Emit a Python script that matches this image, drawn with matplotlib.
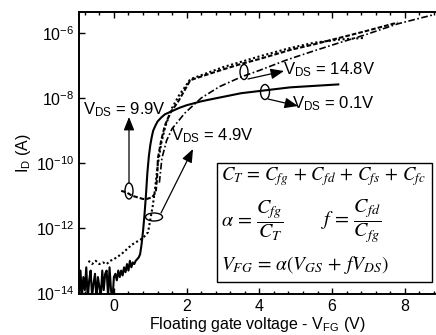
import numpy as np
import matplotlib
matplotlib.use("Agg")
import matplotlib.pyplot as plt
from matplotlib.patches import Ellipse, Rectangle, FancyArrowPatch
from matplotlib.ticker import MultipleLocator

plt.rcParams["font.family"] = ["Liberation Sans", "DejaVu Sans"]
plt.rcParams["mathtext.fontset"] = "custom"
plt.rcParams["mathtext.rm"] = "Liberation Sans"
plt.rcParams["mathtext.it"] = "Liberation Sans:italic"

# V_DS = 0.1 V (solid), log10(I_D)
solid_x = [-1.0, -0.96, -0.92, -0.88, -0.84, -0.8, -0.76, -0.72, -0.68, -0.64, -0.6, -0.56,
           -0.52, -0.48, -0.44, -0.4, -0.36, -0.32, -0.28, -0.24, -0.2, -0.16, -0.12, -0.08,
           -0.04, 0.0, 0.04, 0.08, 0.12, 0.16, 0.2, 0.24, 0.28, 0.32, 0.36, 0.4, 0.44, 0.48,
           0.52, 0.56, 0.6, 0.64, 0.68, 0.72, 0.76, 0.8, 0.84, 0.88, 0.92, 0.96, 1.0, 1.04,
           1.08, 1.14, 1.2, 1.3, 1.4, 1.6, 1.8, 2.0, 2.4, 2.7, 3.5, 4.85, 6.17]
solid_logy = [-13.6, -14.2, -13.3, -14.1, -13.5, -13.9, -13.2, -14.2, -13.6, -13.3, -14.1, -13.7,
              -13.4, -14.2, -13.5, -13.8, -14.1, -13.3, -13.9, -13.4, -13.3, -14.1, -13.2, -13.9,
              -14.2, -13.5, -13.4, -13.6, -13.3, -13.5, -13.3, -13.45, -13.2, -13.35, -13.1, -13.3,
              -13.0, -13.2, -13.05, -13.1, -13.0, -12.95, -12.9, -12.8, -12.5, -12.1, -11.6, -11.0,
              -10.3, -9.8, -9.45, -9.2, -9.0, -8.85, -8.72, -8.6, -8.5, -8.4, -8.3, -8.22, -8.1,
              -8.03, -7.85, -7.67, -7.58]

# V_DS = 4.9 V (dotted)
dot_x = [-0.7, -0.6, -0.5, -0.4, -0.3, -0.2, -0.1, 0.0, 0.2, 0.35, 0.5, 0.65, 0.8, 0.94,
         1.07, 1.13, 1.2, 1.3, 1.42, 1.6, 1.8, 1.96, 2.1, 3.0, 4.0, 4.85, 5.5, 6.2, 6.9]
dot_logy = [-13.0, -13.1, -13.0, -13.1, -13.05, -13.1, -13.0, -12.95, -12.8, -12.65, -12.5,
            -12.4, -12.3, -12.12, -11.3, -10.8, -10.1, -9.4, -8.85, -8.3, -7.9, -7.65, -7.42,
            -7.05, -6.72, -6.46, -6.3, -6.2, -6.15]

# V_DS = 9.9 V (dashed)
dash_x = [0.2, 0.35, 0.5, 0.65, 0.8, 0.9, 1.05, 1.15, 1.19, 1.21, 1.3, 1.4, 1.55, 1.76, 1.96,
          2.1, 2.5, 3.0, 3.5, 4.0, 4.85, 5.5, 6.2, 6.9, 7.8]
dash_logy = [-10.85, -10.9, -11.0, -11.05, -11.1, -11.1, -11.05, -10.9, -10.4, -9.85, -9.3,
             -8.85, -8.45, -8.12, -7.73, -7.45, -7.3, -7.12, -6.95, -6.8, -6.52, -6.35, -6.15,
             -5.95, -5.68]

# V_DS = 14.8 V (dash-dot)
dd_x = [1.25, 1.32, 1.45, 1.6, 1.96, 2.4, 2.9, 3.5, 4.0, 4.77, 5.5, 6.2, 6.9, 7.8, 8.75]
dd_logy = [-10.6, -9.85, -9.3, -8.94, -8.45, -8.0, -7.65, -7.35, -7.15, -6.82, -6.55, -6.3,
           -6.06, -5.72, -5.45]

ytick_vals = [1e-14, 1e-12, 1e-10, 1e-8, 1e-6]
ytick_labels = [r"10$^{\mathregular{-14}}$", r"10$^{\mathregular{-12}}$",
                r"10$^{\mathregular{-10}}$", r"10$^{\mathregular{-8}}$",
                r"10$^{\mathregular{-6}}$"]
xtick_vals = [0, 2, 4, 6, 8]

W, H = 436, 335
fig = plt.figure(figsize=(W / 100, H / 100), dpi=100)
ax = fig.add_axes([79 / W, 1 - 294 / H, (435 - 79) / W, (294 - 12) / H])

ax.plot(solid_x, 10 ** np.array(solid_logy), color="black", lw=1.5, ls="-")
ax.plot(dot_x, 10 ** np.array(dot_logy), color="black", lw=1.5, ls=(0, (1, 1.2)))
ax.plot(dash_x, 10 ** np.array(dash_logy), color="black", lw=1.5, ls=(0, (2.2, 1)))
ax.plot(dd_x, 10 ** np.array(dd_logy), color="black", lw=1.2, ls=(0, (4, 1.5, 1, 1.5)))

ax.set_yscale("log")
ax.set_xlim(-0.96, 8.83)
ax.set_ylim(10 ** -14.02, 10 ** -5.355)
ax.set_yticks(ytick_vals)
ax.set_yticklabels(ytick_labels)
ax.yaxis.set_minor_locator(plt.NullLocator())
ax.set_xticks(xtick_vals)
ax.xaxis.set_minor_locator(MultipleLocator(0.4))
ax.tick_params(which="both", direction="in", top=True, right=False, labelsize=11.5, width=1)
ax.tick_params(which="major", length=4)
ax.tick_params(which="minor", length=2.5)
for s in ["left", "bottom", "top"]:
    ax.spines[s].set_linewidth(1.4)
ax.spines["right"].set_visible(False)

ax.set_ylabel(r"I$_{\mathregular{D}}$ (A)", fontsize=11.5, labelpad=2)
ax.set_xlabel(r"Floating gate voltage - V$_{\mathregular{FG}}$ (V)", fontsize=11.5, labelpad=1)


def fx(px):
    return px / W


def fy(py):
    return 1 - py / H


# annotations (figure pixel positions)
ann = [
    # (ellipse cx, cy, w, h, arrow start, arrow end, text pos, label)
    (129, 191, 8, 16, (129, 183), (129, 117), (124, 110), "9.9V"),
    (154, 217, 17, 8, (161, 213), (193, 149), (212, 136), "4.9V"),
    (244, 72, 8, 15, (248, 79), (284, 71), (329, 70), "14.8V"),
    (265, 92, 9, 15, (268, 99), (298, 106), (333, 104), "0.1V"),
]
for cx, cy, w, h, a0, a1, tp, lab in ann:
    fig.patches.append(Ellipse((fx(cx), fy(cy)), w / W, h / H, transform=fig.transFigure,
                               fill=False, ec="black", lw=1, zorder=5))
    fig.add_artist(FancyArrowPatch(
        (fx(a0[0]), fy(a0[1])), (fx(a1[0]), fy(a1[1])), transform=fig.transFigure,
        arrowstyle="-|>,head_length=8,head_width=3.2", mutation_scale=1, color="black",
        lw=0.9, shrinkA=0, shrinkB=0))
    fig.text(fx(tp[0]), fy(tp[1]), r"V$_{\mathregular{DS}}$ = " + lab, fontsize=12,
             ha="center", va="center")

# equation box
fig.patches.append(Rectangle((fx(217), fy(282)), (432 - 217) / W, (282 - 163) / H,
                             transform=fig.transFigure, fc="white", ec="black", lw=1, zorder=4))
eq_kw = dict(fontsize=13.5, math_fontfamily="stix", va="center", zorder=6)
fig.text(fx(221), fy(177), r"$C_T\, =\, C_{fg}\, +\, C_{fd}\, +\, C_{fs}\, +\, C_{fc}$",
         ha="left", **eq_kw)
fig.text(fx(221), fy(221), r"$\alpha\, =\, \dfrac{C_{fg}}{C_T}$", ha="left",
         **dict(eq_kw, fontsize=14.5))
fig.text(fx(321), fy(221), r"$f\, =\, \dfrac{C_{fd}}{C_{fg}}$", ha="left",
         **dict(eq_kw, fontsize=14.5))
fig.text(fx(221), fy(265), r"$V_{FG}\, =\, \alpha(V_{GS}\, +\, fV_{DS})$", ha="left",
         **dict(eq_kw, fontsize=14))

fig.savefig("out.png", dpi=100)
